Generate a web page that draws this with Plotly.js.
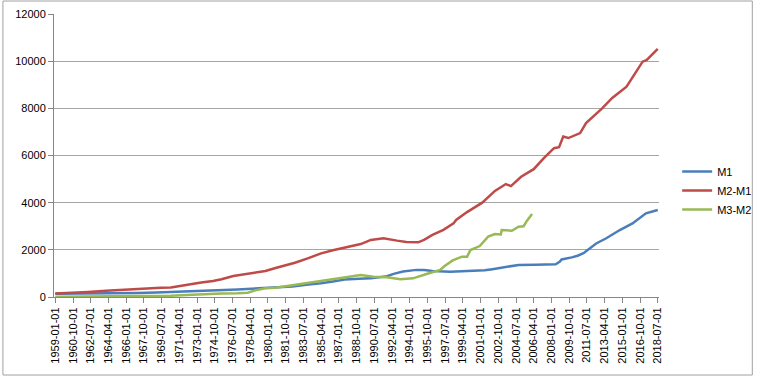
<!DOCTYPE html>
<html>
<head>
<meta charset="utf-8">
<script src="https://cdn.plot.ly/plotly-3.0.1.min.js"></script>
<style>
html,body{margin:0;padding:0;background:#fff;}
#chart{width:769px;height:380px;}
</style>
</head>
<body>
<div id="chart"></div>
<script>
var seriesNames = ["M1", "M2-M1", "M3-M2"];

var m1Dates = ["1959-01-01","1961-01-01","1963-01-01","1965-01-01","1967-01-01","1969-01-01","1971-01-01","1973-01-01","1975-01-01","1977-01-01","1979-01-01","1981-01-01","1982-06-01","1984-01-01","1985-04-01","1986-06-01","1987-08-01","1989-01-01","1990-03-01","1991-10-01","1992-06-01","1993-05-01","1994-09-01","1995-06-01","1996-04-01","1998-01-01","1999-06-01","2000-06-01","2001-06-01","2002-03-01","2003-06-01","2004-10-01","2006-06-01","2007-06-01","2008-06-01","2008-11-01","2009-01-01","2010-01-01","2010-08-01","2011-03-01","2011-08-01","2012-06-01","2013-06-01","2014-10-01","2016-01-01","2017-05-01","2018-07-01"];
var m1Values = [140,143,150,162,172,195,215,255,285,320,360,400,450,530,580,660,740,770,790,880,980,1080,1150,1140,1100,1070,1090,1100,1130,1180,1270,1360,1370,1365,1390,1500,1590,1680,1750,1860,1990,2270,2490,2840,3120,3550,3690];

var m2m1Dates = ["1959-01-01","1960-06-01","1962-04-01","1964-01-01","1966-01-01","1968-01-01","1969-06-01","1970-06-01","1971-06-01","1972-06-01","1973-06-01","1974-08-01","1975-06-01","1976-08-01","1978-01-01","1979-10-01","1980-10-01","1982-09-01","1984-01-01","1985-04-01","1986-06-01","1987-08-01","1989-03-01","1990-03-01","1991-06-01","1992-10-01","1993-09-01","1994-11-01","1995-06-01","1996-04-01","1997-05-01","1998-05-01","1998-08-01","1999-09-01","2001-03-01","2002-06-01","2003-07-01","2004-01-01","2005-01-01","2006-04-01","2007-04-01","2008-04-01","2008-10-01","2009-03-01","2009-09-01","2010-11-01","2011-06-01","2013-01-01","2014-01-01","2015-06-01","2016-04-01","2017-01-01","2017-06-01","2018-07-01"];
var m2m1Values = [150,170,212,260,320,370,395,400,480,560,610,680,750,890,980,1100,1230,1455,1650,1850,1980,2090,2245,2420,2490,2390,2330,2320,2420,2630,2850,3120,3265,3600,4000,4500,4790,4700,5100,5420,5890,6310,6350,6800,6740,6950,7375,8000,8440,8920,9500,9980,10050,10520];

var m3m2Dates = ["1959-01-01","1961-01-01","1963-01-01","1965-01-01","1967-01-01","1969-01-01","1970-06-01","1972-01-01","1973-08-01","1975-06-01","1977-01-01","1978-01-01","1978-10-01","1979-10-01","1980-10-01","1982-09-01","1985-01-01","1986-12-01","1989-03-01","1990-06-01","1991-10-01","1993-02-01","1994-05-01","1995-09-01","1997-01-01","1997-06-01","1998-04-01","1999-03-01","1999-09-01","2000-01-01","2000-12-01","2001-10-01","2002-06-01","2003-01-01","2003-02-01","2004-02-01","2004-10-01","2005-04-01","2005-08-01","2006-02-01"];
var m3m2Values = [15,20,25,30,35,45,55,80,120,150,160,180,280,370,390,510,650,780,930,860,835,750,790,975,1150,1300,1550,1710,1710,1990,2160,2560,2670,2650,2840,2810,2980,3000,3235,3520];

var tickLabels = ["1959-01-01","1960-10-01","1962-07-01","1964-04-01","1966-01-01","1967-10-01","1969-07-01","1971-04-01","1973-01-01","1974-10-01","1976-07-01","1978-04-01","1980-01-01","1981-10-01","1983-07-01","1985-04-01","1987-01-01","1988-10-01","1990-07-01","1992-04-01","1994-01-01","1995-10-01","1997-07-01","1999-04-01","2001-01-01","2002-10-01","2004-07-01","2006-04-01","2008-01-01","2009-10-01","2011-07-01","2013-04-01","2015-01-01","2016-10-01","2018-07-01"];

var yTicks = [0,2000,4000,6000,8000,10000,12000];

var colors = ["#4A7EBB", "#BE4B48", "#98B954"];

var traces = [
  {x: m1Dates, y: m1Values, name: seriesNames[0], type: "scatter", mode: "lines",
   line: {color: colors[0], width: 2.5}},
  {x: m2m1Dates, y: m2m1Values, name: seriesNames[1], type: "scatter", mode: "lines",
   line: {color: colors[1], width: 2.5}},
  {x: m3m2Dates, y: m3m2Values, name: seriesNames[2], type: "scatter", mode: "lines",
   line: {color: colors[2], width: 2.5}}
];

var layout = {
  width: 769, height: 380,
  margin: {l: 54, r: 99, t: 14, b: 83, pad: 0},
  paper_bgcolor: "#ffffff",
  plot_bgcolor: "#ffffff",
  font: {family: "Liberation Sans, Arial, sans-serif", size: 11, color: "#000"},
  showlegend: true,
  legend: {x: 1.03, xanchor: "left", y: 0.495, yanchor: "top",
           font: {size: 11, color: "#000"}, bgcolor: "rgba(0,0,0,0)",
           tracegroupgap: 0},
  xaxis: {
    type: "date",
    range: ["1958-11-15", "2018-08-15"],
    tickmode: "array",
    tickvals: tickLabels,
    ticktext: tickLabels,
    tickangle: -90,
    ticks: "outside", ticklen: 5, tickcolor: "#868686", tickwidth: 1,
    showline: true, linecolor: "#868686", linewidth: 1,
    showgrid: false, zeroline: false,
    tickfont: {size: 11, color: "#000"}
  },
  yaxis: {
    range: [0, 12000],
    tickmode: "array",
    tickvals: yTicks,
    ticktext: yTicks.map(String),
    ticks: "outside", ticklen: 5, tickcolor: "#868686", tickwidth: 1,
    showline: true, linecolor: "#868686", linewidth: 1,
    showgrid: true, gridcolor: "#a6a6a6", gridwidth: 1,
    zeroline: false,
    tickfont: {size: 11, color: "#000"}
  },
  shapes: [
    {type: "rect", xref: "paper", yref: "paper",
     x0: -52/616, x1: 711/616, y0: -78/283, y1: 1 + 13/283,
     line: {color: "#a0a0a0", width: 1}, fillcolor: "rgba(0,0,0,0)", layer: "below"}
  ]
};

Plotly.newPlot("chart", traces, layout, {displayModeBar: false, staticPlot: true});
</script>
</body>
</html>
